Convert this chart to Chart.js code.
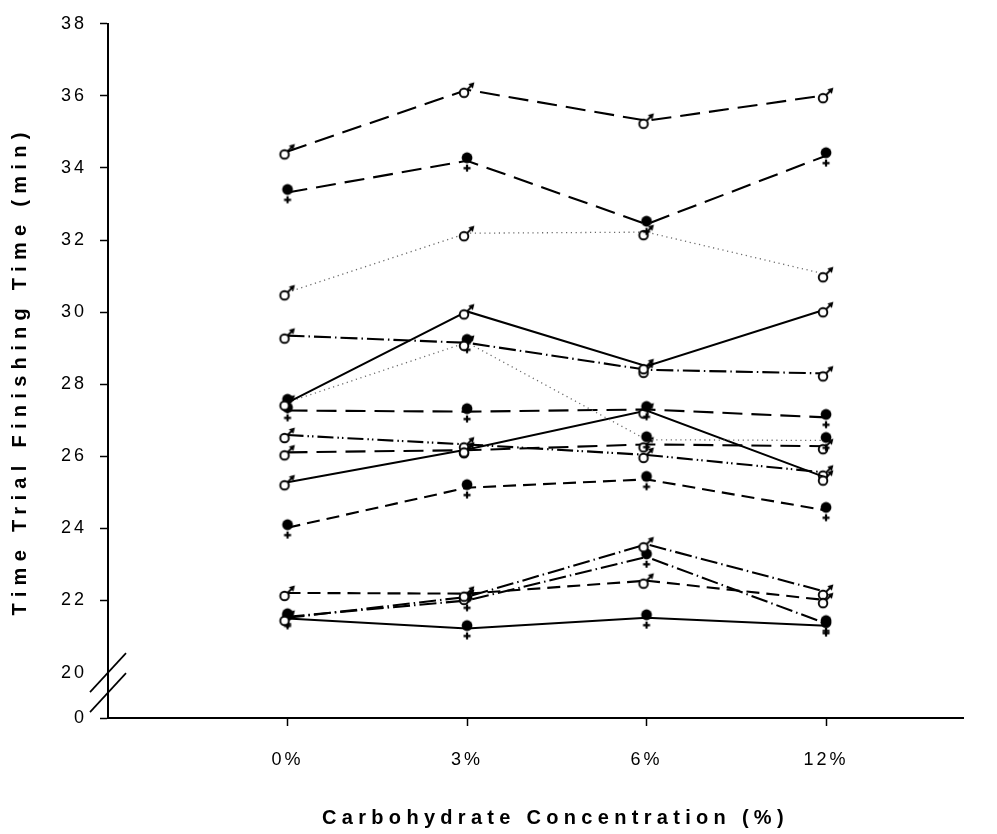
<!DOCTYPE html>
<html>
<head>
<meta charset="utf-8">
<script src="https://cdn.jsdelivr.net/npm/chart.js@4.4.1/dist/chart.umd.min.js"></script>
<style>
html,body{margin:0;padding:0;background:#fff;}
#wrap{width:997px;height:834px;position:relative;}
</style>
</head>
<body>
<div id="wrap"><canvas id="c" width="997" height="834"></canvas></div>
<script>
// ---------- DATA ----------
const categories = ['0%', '3%', '6%', '12%'];
const yTickValues = [20, 22, 24, 26, 28, 30, 32, 34, 36, 38];
const brokenAxisLabel = '0';
const xTitle = 'Carbohydrate Concentration (%)';
const yTitle = 'Time Trial Finishing Time (min)';

// one array per subject (finishing time, min)
const subjA = [34.46, 36.17, 35.31, 36.02];
const subjB = [33.32, 34.20, 32.44, 34.34];
const subjC = [30.55, 32.19, 32.22, 31.05];
const subjD = [27.49, 30.02, 28.50, 30.08];
const subjE = [29.35, 29.15, 28.40, 28.30];
const subjF = [27.50, 29.16, 26.46, 26.44];
const subjG = [27.27, 27.24, 27.30, 27.08];
const subjH = [25.28, 26.19, 27.27, 25.41];
const subjI = [26.11, 26.17, 26.33, 26.28];
const subjJ = [26.59, 26.33, 26.04, 25.55];
const subjK = [24.02, 25.13, 25.36, 24.50];
const subjL = [22.21, 22.19, 22.55, 22.01];
const subjM = [21.52, 22.10, 23.56, 22.24];
const subjN = [21.55, 22.00, 23.21, 21.36];
const subjO = [21.50, 21.22, 21.52, 21.30];

const subjects = [subjA, subjB, subjC, subjD, subjE, subjF, subjG, subjH, subjI, subjJ, subjK, subjL, subjM, subjN, subjO];
const sexes    = ['m', 'f', 'm', 'm', 'm', 'f', 'f', 'm', 'm', 'm', 'f', 'm', 'm', 'f', 'f'];

// ---------- STYLE ----------
const DASH = {
  solid: [],
  long: [20, 9],
  med: [13, 7],
  dot: [1.2, 3.6],
  dashDot: [17, 4, 1.5, 4],
  dashDotDot: [16, 4, 1.5, 3, 1.5, 4]
};
const lineStyles = ['long', 'long', 'dot', 'solid', 'dashDot', 'dot', 'long', 'solid', 'long', 'dashDotDot', 'med', 'med', 'dashDot', 'dashDot', 'solid'];
const FONT = "'Liberation Sans', Arial, Helvetica, sans-serif";
const Y_MIN = 18.74;   // value placed at the broken-axis "0"
const Y_MAX = 38;
const X_MIN = -1;
const X_MAX = 3.763;

function makeMale() {
  const c = document.createElement('canvas'); c.width = 32; c.height = 32;
  const g = c.getContext('2d');
  g.strokeStyle = '#000'; g.fillStyle = '#000'; g.lineWidth = 1.9; g.lineCap = 'butt';
  g.beginPath(); g.moveTo(15.6, 16.4); g.lineTo(20.0, 12.0); g.stroke();
  g.beginPath(); g.moveTo(23.4, 8.6); g.lineTo(17.3, 10.2); g.lineTo(21.8, 14.7); g.closePath(); g.fill();
  g.beginPath(); g.arc(13, 19, 4.3, 0, Math.PI * 2);
  g.fillStyle = '#fff'; g.fill(); g.stroke();
  return c;
}
function makeFemale() {
  const c = document.createElement('canvas'); c.width = 32; c.height = 32;
  const g = c.getContext('2d');
  g.fillStyle = '#000'; g.strokeStyle = '#000';
  g.beginPath(); g.arc(16, 13, 5.4, 0, Math.PI * 2); g.fill();
  g.lineWidth = 2.2;
  g.beginPath(); g.moveTo(16, 19.8); g.lineTo(16, 26.8); g.moveTo(12.5, 23.3); g.lineTo(19.5, 23.3); g.stroke();
  return c;
}
const maleImg = makeMale();
const femaleImg = makeFemale();

const datasets = subjects.map((vals, i) => {
  const st = lineStyles[i];
  const dotted = st === 'dot';
  return {
    label: 'S' + (i + 1),
    data: vals.map((v, k) => ({ x: k, y: v })),
    borderColor: dotted ? '#6a6a6a' : '#000',
    borderWidth: dotted ? 1.3 : (st === 'solid' ? 2 : 2.1),
    borderDash: DASH[st],
    pointStyle: sexes[i] === 'm' ? maleImg : femaleImg,
    pointRadius: 5,
    pointHoverRadius: 5,
    tension: 0,
    fill: false,
    clip: false
  };
});

const TITLE_SPACING = { x: '5.3px', y: '6.3px' };
const TITLE_SHIFT = { x: 20, y: 0 };
const spacingPlugin = {
  id: 'spacing',
  afterUpdate(chart) {
    Object.values(chart.scales).forEach(s => {
      if (!s.__wrapped) {
        const orig = s.drawTitle;
        s.drawTitle = function () {
          const c = this.ctx; const prev = c.letterSpacing;
          c.save();
          c.letterSpacing = TITLE_SPACING[this.id] || '5px';
          c.translate(TITLE_SHIFT[this.id] || 0, 0);
          orig.apply(this, arguments);
          c.restore();
          c.letterSpacing = prev;
        };
        s.__wrapped = true;
      }
    });
  },
  beforeDraw(chart) { chart.ctx.letterSpacing = '3px'; }
};

const axisBreak = {
  id: 'axisBreak',
  afterDraw(chart) {
    const y = chart.scales.y; const ctx = chart.ctx;
    const x0 = chart.chartArea.left;
    const p1 = y.getPixelForValue(20);
    const p2 = p1 + 20;
    ctx.save();
    ctx.strokeStyle = '#000'; ctx.lineWidth = 1.7;
    [p1, p2].forEach(p => {
      ctx.beginPath(); ctx.moveTo(x0 - 18, p + 19.5); ctx.lineTo(x0 + 18, p - 19.5); ctx.stroke();
    });
    ctx.restore();
  }
};

Chart.defaults.font.family = FONT;
Chart.defaults.color = '#000';

new Chart(document.getElementById('c'), {
  type: 'line',
  data: { datasets },
  options: {
    responsive: false,
    animation: false,
    devicePixelRatio: 1,
    layout: { padding: { top: 17, left: 0, right: 34, bottom: 0 } },
    plugins: { legend: { display: false }, tooltip: { enabled: false } },
    scales: {
      x: {
        type: 'linear', min: X_MIN, max: X_MAX,
        afterBuildTicks: s => { s.ticks = categories.map((c, i) => ({ value: i })); },
        afterFit: s => { s.height = 116; },
        ticks: { callback: v => categories[v], font: { size: 18 }, color: '#000', padding: 23, maxRotation: 0, autoSkip: false },
        grid: { display: true, drawOnChartArea: false, drawTicks: true, tickLength: 8, tickWidth: 1.5, tickColor: '#000', color: '#000' },
        border: { display: true, color: '#000', width: 2 },
        title: { display: true, text: xTitle, color: '#000', font: { size: 20, weight: 'bold' }, padding: { top: 0, bottom: 4 } }
      },
      y: {
        type: 'linear', min: Y_MIN, max: Y_MAX,
        afterBuildTicks: s => { s.ticks = [Y_MIN, ...yTickValues].map(v => ({ value: v })); },
        afterFit: s => { s.width = 108; },
        ticks: { callback: v => (v === Y_MIN ? brokenAxisLabel : String(v)), font: { size: 18 }, color: '#000', padding: 13, autoSkip: false },
        grid: { display: true, drawOnChartArea: false, drawTicks: true, tickLength: 8, tickWidth: 1.5,
                tickColor: c => (c.tick && c.tick.value === 20 ? 'rgba(0,0,0,0)' : '#000'), color: '#000' },
        border: { display: true, color: '#000', width: 2 },
        title: { display: true, text: yTitle, color: '#000', font: { size: 20, weight: 'bold' }, padding: { top: 8, bottom: 0 } }
      }
    }
  },
  plugins: [spacingPlugin, axisBreak]
});
</script>
</body>
</html>
